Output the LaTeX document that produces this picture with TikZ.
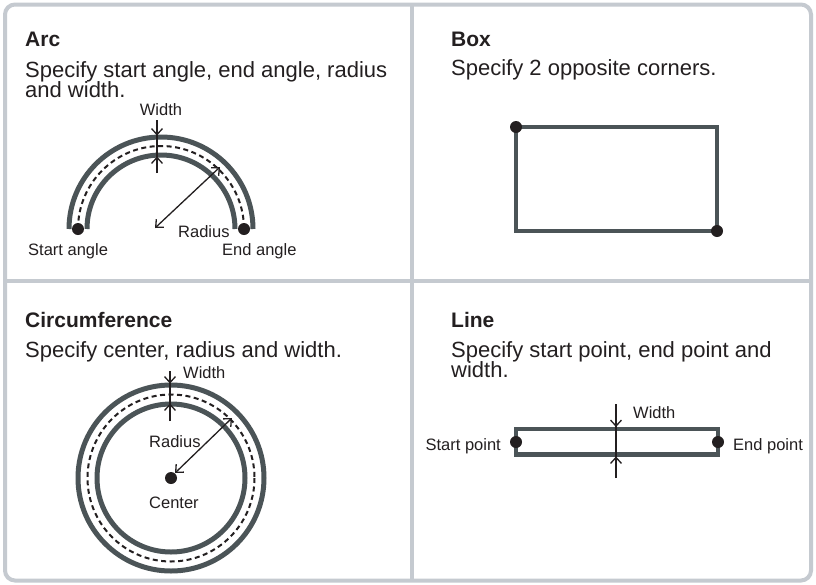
\documentclass[tikz,border=0pt]{standalone}
\usepackage{fontspec}
\setmainfont{Liberation Sans}
\usetikzlibrary{arrows.meta}
\definecolor{framegray}{HTML}{C5CAD0}
\definecolor{bandcol}{HTML}{4B5457}
\definecolor{ink}{HTML}{231F20}
\begin{document}
\begin{tikzpicture}[x=1pt,y=-1pt,
  title/.style={anchor=base west, inner sep=0, font=\fontsize{21}{24}\selectfont\bfseries, text=ink},
  body/.style={anchor=base west, inner sep=0, align=left, font=\fontsize{22}{20}\selectfont, text=ink},
  lbl/.style={inner sep=0, font=\fontsize{16.5}{18}\selectfont, text=ink},
  bandline/.style={draw=bandcol, line width=5},
  midline/.style={draw=ink, line width=2, dash pattern=on 5 off 3.5},
  dimline/.style={draw=ink, line width=1.3},
  dimarrow/.style={draw=ink, line width=1.3, -{Straight Barb[length=6,width=11]}},
  dimboth/.style={draw=ink, line width=1.3, {Straight Barb[length=6,width=11]}-{Straight Barb[length=6,width=11]}},
  dot/.style={circle, fill=ink, inner sep=0, minimum size=12},
  panel/.style={draw=framegray, line width=4}]
\useasboundingbox (0,0) rectangle (816,584);
\fill[white] (0,0) rectangle (816,584);
% frame
\draw[panel, rounded corners=10] (5,4.5) rectangle (811,580.5);
\draw[panel] (412,4.5) -- (412,580.5);
\draw[panel] (5,280.5) -- (811,280.5);
% texts
\node[title] (arcT) at (25,46) {Arc};
\node[body] (arcB) at (25,97) {Specify start angle, end angle, radius\\[-1.6pt]and width.};
\node[title] (boxT) at (451,46) {Box};
\node[body] (boxB) at (451,75) {Specify 2 opposite corners.};
\node[title] (cirT) at (25,327) {Circumference};
\node[body] (cirB) at (25,357) {Specify center, radius and width.};
\node[title] (linT) at (451,327) {Line};
\node[body] (linB) at (451,377) {Specify start point, end point and\\[-1.6pt]width.};
% ---- Arc
\draw[bandline] (69,229) arc[start angle=180, end angle=360, radius=92];
\draw[bandline] (87,229) arc[start angle=180, end angle=360, radius=74];
\draw[midline] (78,229) arc[start angle=180, end angle=360, radius=83];
\node[dot] (sa) at (78,229) {};
\node[dot] (ea) at (244,229) {};
\coordinate (aw1) at (157,120);
\coordinate (aw2) at (157,135.5);
\coordinate (aw3) at (157,173);
\coordinate (aw4) at (157,156.5);
\draw[dimline] (aw1) -- (aw3);
\draw[dimarrow] (aw1) -- (aw2);
\draw[dimarrow] (aw3) -- (aw4);
\node[lbl, anchor=base] (awl) at (161,115) {Width};
\coordinate (ar1) at (155,228);
\coordinate (ar2) at (220,167);
\draw[dimboth] (ar1) -- (ar2);
\node[lbl, anchor=base west] (arl) at (178,237) {Radius};
\node[lbl, anchor=base west] (sal) at (28,255) {Start angle};
\node[lbl, anchor=base west] (eal) at (222,255) {End angle};
% ---- Box
\draw[bandline, line width=4.5] (516,127) rectangle (717,231);
\node[dot] (b1) at (516,127) {};
\node[dot] (b2) at (717,231) {};
% ---- Circumference
\coordinate (cc) at (171,478);
\draw[bandline] (cc) circle[radius=93];
\draw[bandline] (cc) circle[radius=74];
\draw[midline] (cc) circle[radius=83.5];
\node[dot] (cdot) at (cc) {};
\coordinate (cw1) at (170,371);
\coordinate (cw2) at (170,383.5);
\coordinate (cw3) at (170,421);
\coordinate (cw4) at (170,403.5);
\draw[dimline] (cw1) -- (cw3);
\draw[dimarrow] (cw1) -- (cw2);
\draw[dimarrow] (cw3) -- (cw4);
\node[lbl, anchor=base west] (cwl) at (183,378) {Width};
\coordinate (cr1) at (175,473);
\coordinate (cr2) at (232,418);
\draw[dimboth] (cr1) -- (cr2);
\node[lbl, anchor=base west] (crl) at (149,447) {Radius};
\node[lbl, anchor=base west] (ccl) at (149,508) {Center};
% ---- Line
\draw[bandline, line width=4.5] (516,429) rectangle (718,454.5);
\node[dot] (l1) at (516,442) {};
\node[dot] (l2) at (718,442) {};
\coordinate (lw1) at (616,404);
\coordinate (lw2) at (616,427);
\coordinate (lw3) at (616,478);
\coordinate (lw4) at (616,456.5);
\draw[dimline] (lw1) -- (lw3);
\draw[dimarrow] (lw1) -- (lw2);
\draw[dimarrow] (lw3) -- (lw4);
\node[lbl, anchor=base west] (lwl) at (633,418) {Width};
\node[lbl, anchor=base east] (spl) at (501,450) {Start point};
\node[lbl, anchor=base west] (epl) at (733,450) {End point};
\end{tikzpicture}
\end{document}
